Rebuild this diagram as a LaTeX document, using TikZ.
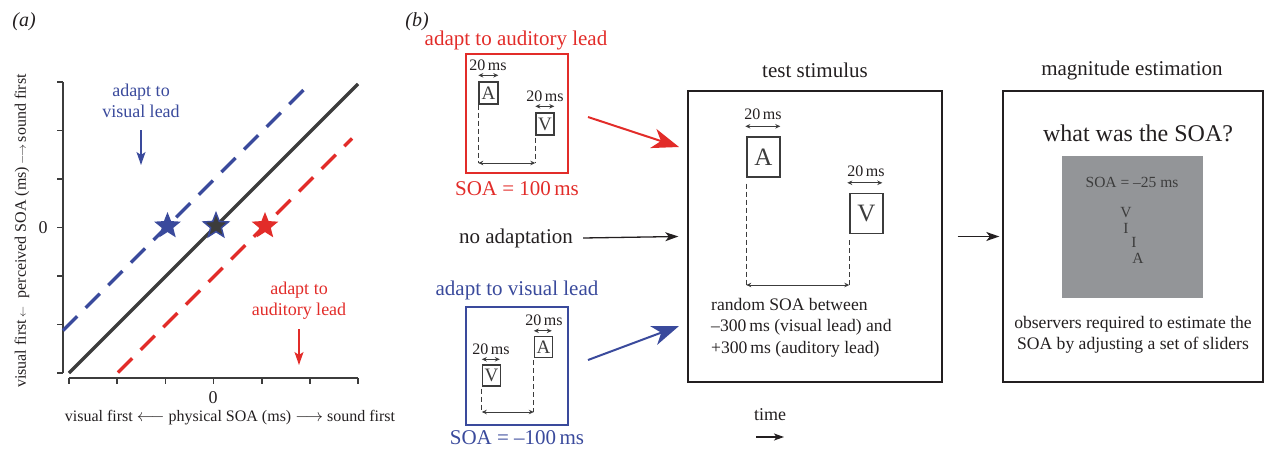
\documentclass[tikz,border=0pt]{standalone}
\usepackage{fontspec}
\setmainfont{Liberation Serif}
\usetikzlibrary{arrows.meta,shapes.geometric}
\definecolor{myblue}{RGB}{58,74,156}
\definecolor{myred}{RGB}{226,44,41}
\definecolor{ink}{RGB}{35,31,32}
\definecolor{dk}{RGB}{60,60,60}
\definecolor{panelgray}{RGB}{147,149,152}
\newcommand{\fs}[1]{\fontsize{#1}{#1}\selectfont}
\begin{document}
\begin{tikzpicture}[x=1pt,y=-1pt,
  txt/.style={inner sep=0pt, text=ink},
  title/.style={txt, font=\fs{21}},
  body/.style={txt, font=\fs{17.6}},
  small/.style={txt, font=\fs{16}},
  axis/.style={dk, line width=1.6pt},
  letterbox/.style={draw=dk, line width=1.4pt, inner sep=0pt, font=\fs{19}, text=dk},
  bigletter/.style={draw=dk, line width=1.4pt, inner sep=0pt, font=\fs{25}, text=dk, minimum width=33pt, minimum height=40pt},
  dur/.style={dk, line width=1pt, {Stealth[length=5pt,width=4.5pt]}-{Stealth[length=5pt,width=4.5pt]}},
  guide/.style={dk, line width=1pt, dashed, dash pattern=on 5pt off 3pt},
  frame/.style={draw=ink, line width=1.4pt},
  bigarrow/.style={line width=2pt, -{Stealth[length=27pt,width=20pt,inset=8pt]}},
  plainarrow/.style={ink, line width=1.3pt, -{Stealth[length=13pt,width=9pt,inset=3.5pt]}},
  downarrow/.style={line width=1.5pt, -{Stealth[length=13pt,width=9pt,inset=3pt]}},
  starmark/.style={star, star points=5, star point ratio=2.3, minimum size=28pt, inner sep=0pt}
]
\useasboundingbox (0,0) rectangle (1269,452);

% ---------------- panel (a) ----------------
\node[txt, font=\fs{20}\itshape] (la) at (24,22) {(a)};
\draw[axis] (63,82) -- (63,373);
\foreach \y in {82,130.5,179,227.5,276,324.5,373} \draw[axis] (57,\y) -- (63,\y);
\draw[axis] (69,378) -- (358,378);
\foreach \x in {69,117.2,165.3,213.5,261.7,309.8,358} \draw[axis] (\x,378) -- (\x,384);
\node[txt, font=\fs{18}] (x0) at (213,398) {0};
\node[txt, font=\fs{18}] (y0) at (43,228) {0};
\node[txt, font=\fs{16}] (xlab) at (230,418) {visual first $\longleftarrow$ physical SOA (ms) $\longrightarrow$ sound first};
\node[txt, font=\fs{16}, rotate=90] (ylab) at (22,231) {visual first\,{\fs{11}$\leftarrow$}\ \ perceived SOA (ms)\,{\fs{13}$\longrightarrow$}\,sound first};

\draw[myblue, line width=3.4pt, dash pattern=on 20pt off 12pt] (63,330.5) -- (310,83.5);
\draw[myred, line width=3.4pt, dash pattern=on 20pt off 12pt] (118,372.5) -- (352,138.5);
\draw[dk, line width=3.4pt] (69,373) -- (358,84);

\node[starmark, fill=myblue] (sb) at (167.5,226) {};
\node[starmark, fill=dk, draw=myblue, line width=1.5pt, minimum size=26pt] (sk) at (216,226) {};
\node[starmark, fill=myred] (sr) at (265,226) {};

\node[txt, font=\fs{18}, text=myblue, align=center] (avl) at (141,101) {adapt to\\[3pt]visual lead};
\coordinate (avlend) at (141,165);
\draw[downarrow, myblue] (141,130) -- (avlend);
\node[txt, font=\fs{18}, text=myred, align=center] (aal) at (299,301) {adapt to\\[3pt]auditory lead};
\coordinate (aalend) at (299,365);
\draw[downarrow, myred] (299,329) -- (aalend);

% ---------------- panel (b) ----------------
\node[txt, font=\fs{20}\itshape] (lb) at (417,22) {(b)};

% adapt to auditory lead
\node[txt, font=\fs{21}, text=myred] (redtitle) at (516,40) {adapt to auditory lead};
\node[draw=myred, line width=1.4pt, minimum width=102pt, minimum height=119pt, inner sep=0pt] (redbox) at (517,113.5) {};
\node[txt, font=\fs{21}, text=myred] (redsoa) at (517,189) {SOA = 100\,ms};
\node[letterbox, minimum width=19pt, minimum height=22pt] (rA) at (488.5,93) {A};
\node[letterbox, minimum width=18pt, minimum height=22pt] (rV) at (545,124) {V};
\node[small] (r20a) at (488,65) {20\,ms};
\node[small] (r20v) at (545,96) {20\,ms};
\draw[dur] (rA.north west) ++(0,-6) -- ++(20,0);
\draw[dur] (rV.north west) ++(0,-6) -- ++(19,0);
\draw[guide] (rA.south west) -- (rA.south west |- 0,163);
\draw[guide] (rV.south west) ++(0,2) -- (rV.south west |- 0,163);
\draw[dur] (rA.south west |- 0,163) -- (rV.south west |- 0,163);

% no adaptation
\node[txt, font=\fs{21}] (noad) at (516,238) {no adaptation};

% adapt to visual lead
\node[txt, font=\fs{21}, text=myblue] (bluetitle) at (517,290) {adapt to visual lead};
\node[draw=myblue, line width=1.4pt, minimum width=102pt, minimum height=118pt, inner sep=0pt] (bluebox) at (517,366) {};
\node[txt, font=\fs{21}, text=myblue] (bluesoa) at (517,438) {SOA = --100\,ms};
\node[letterbox, minimum width=18pt, minimum height=21pt] (bA) at (543.5,347) {A};
\node[letterbox, minimum width=18pt, minimum height=21pt] (bV) at (491.5,375.5) {V};
\node[small] (b20a) at (544,320) {20\,ms};
\node[small] (b20v) at (491,349) {20\,ms};
\draw[dur] (bA.north west) ++(0,-5) -- ++(18,0);
\draw[dur] (bV.north west) ++(0,-5) -- ++(18,0);
\draw[guide] (bV.south west) ++(0,2) -- (bV.south west |- 0,412);
\draw[guide] (bA.south west) ++(0,2) -- (bA.south west |- 0,412);
\draw[dur] (bV.south west |- 0,412) -- (bA.south west |- 0,412);

% test stimulus
\node[title] (testtitle) at (815,70) {test stimulus};
\node[frame, minimum width=254pt, minimum height=291pt, inner sep=0pt] (testbox) at (815,236.5) {};
\node[bigletter] (tA) at (763.5,157) {A};
\node[bigletter] (tV) at (866.5,213.5) {V};
\node[small] (t20a) at (763,114) {20\,ms};
\node[small] (t20v) at (866,171) {20\,ms};
\draw[dur] (tA.north west) ++(-1,-10) -- ++(35,0);
\draw[dur] (tV.north west) ++(-2,-10) -- ++(35,0);
\draw[guide] (tA.south west) ++(0,6) -- (tA.south west |- 0,285);
\draw[guide] (tV.south west) ++(0,6) -- (tV.south west |- 0,285);
\draw[dur] (tA.south west |- 0,285) -- (tV.south west |- 0,285);
\node[body, anchor=north west, align=left] (testtext) at (711,298) {random SOA between\\[3.8pt]--300\,ms (visual lead) and\\[3.8pt]+300\,ms (auditory lead)};

% magnitude estimation
\node[title] (magtitle) at (1132,70) {magnitude estimation};
\node[frame, minimum width=260pt, minimum height=291pt, inner sep=0pt] (magbox) at (1133,236.5) {};
\node[txt, font=\fs{24}] (q) at (1138,133) {what was the SOA?};
\node[fill=panelgray, minimum width=141pt, minimum height=142pt, inner sep=0pt] (screen) at (1132.5,227) {};
\node[txt, font=\fs{15.5}, text=dk] (soa25) at (1132,182) {SOA = --25 ms};
\node[txt, font=\fs{15.5}, text=dk] (s1) at (1126,213) {V};
\node[txt, font=\fs{15.5}, text=dk] (s2) at (1126,228) {I};
\node[txt, font=\fs{15.5}, text=dk] (s3) at (1134,242) {I};
\node[txt, font=\fs{15.5}, text=dk] (s4) at (1138,258) {A};
\node[body, align=center] (magtext) at (1133,335) {observers required to estimate the\\[3.8pt]SOA by adjusting a set of sliders};

% time
\node[txt, font=\fs{18}] (time) at (770,415) {time};
\coordinate (t0) at (756,437);
\coordinate (t1) at (784,437);
\draw[ink, line width=1.2pt, -{Stealth[length=10pt,width=7pt,inset=2.5pt]}] (t0) -- (t1);

% connectors
\coordinate (rs) at (588,117);
\coordinate (re) at (679,147);
\draw[bigarrow, myred] (rs) -- (re);
\coordinate (bs) at (588,360);
\coordinate (be) at (679,326);
\draw[bigarrow, myblue] (bs) -- (be);
\draw[plainarrow] ([xshift=10pt]noad.east) -- ([xshift=-9pt]testbox.west);
\draw[plainarrow] ([xshift=15pt]testbox.east) -- ([xshift=-3pt]magbox.west);
\end{tikzpicture}
\end{document}
